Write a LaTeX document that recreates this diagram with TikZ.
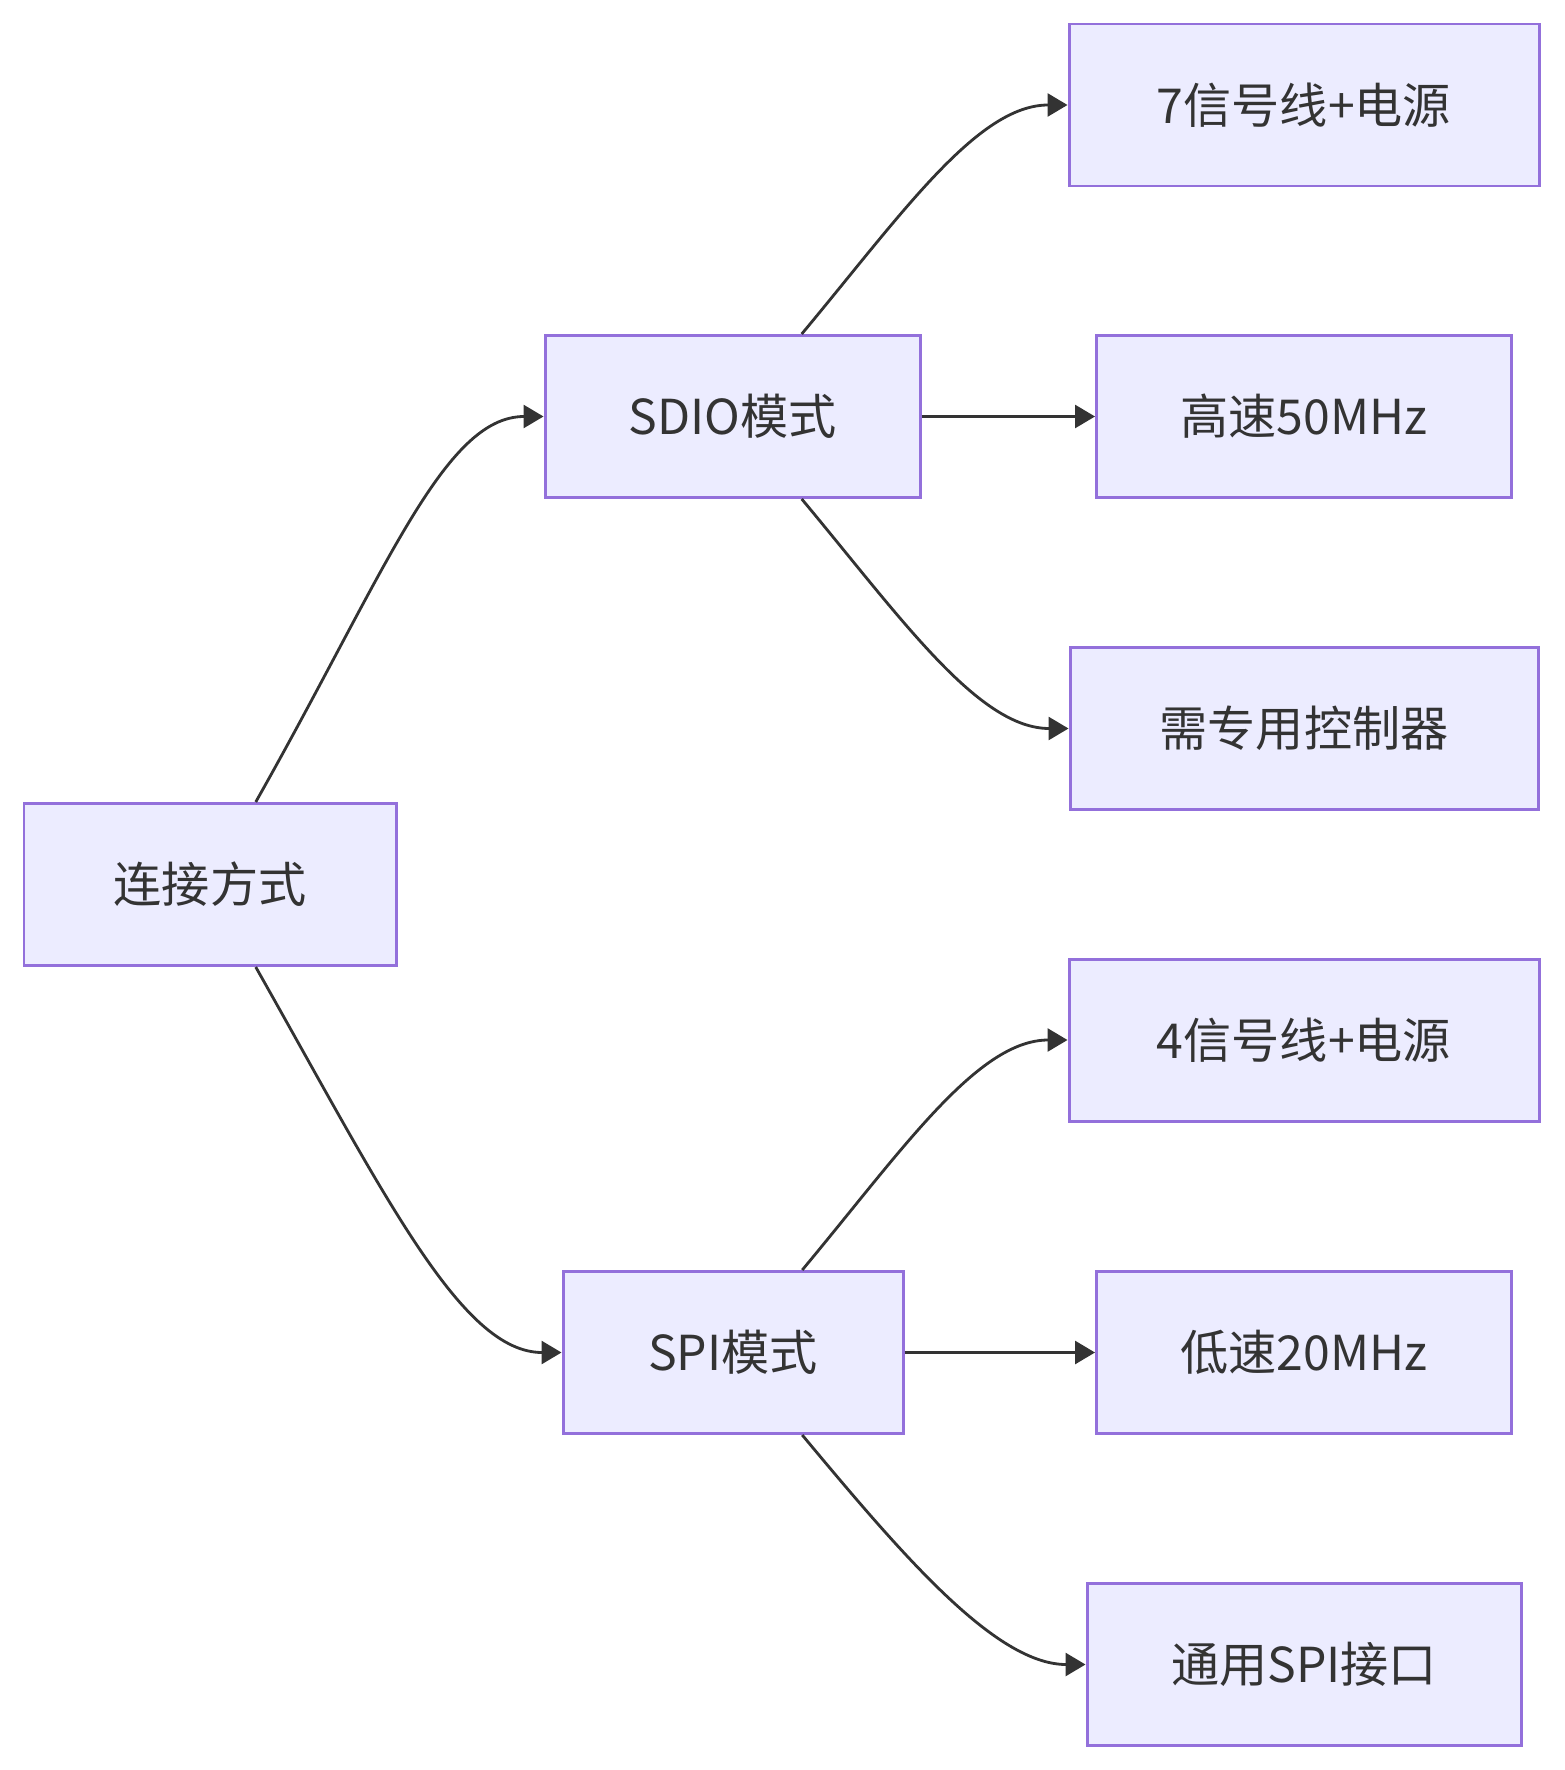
\documentclass[tikz,border=0pt]{standalone}
\usepackage{fontspec}
\setmainfont{Noto Sans CJK SC}
\usetikzlibrary{arrows.meta}
\definecolor{fond}{HTML}{ECECFF}
\definecolor{bord}{HTML}{9370DB}
\definecolor{trait}{HTML}{333333}
\begin{document}
\begin{tikzpicture}
\tikzset{noeud/.style={draw=bord, fill=fond, line width=0.85pt, minimum height=1.62cm, inner sep=0pt, text=trait, font=\fontsize{13.7}{16}\selectfont}}
\tikzset{lien/.style={draw=trait, line width=0.8pt, -{Triangle[length=0.2cm,width=0.23cm]}}}
\useasboundingbox (0,0) rectangle (15.64,-17.70);
\node[noeud, minimum width=3.72cm] (C) at (2.10,-8.845) {连接方式};
\node[noeud, minimum width=3.75cm] (SDIO) at (7.325,-4.165) {SDIO模式};
\node[noeud, minimum width=3.40cm] (SPI) at (7.33,-13.525) {SPI模式};
\node[noeud, minimum width=4.70cm] (S1) at (13.04,-1.05) {7信号线+电源};
\node[noeud, minimum width=4.15cm] (S2) at (13.04,-4.165) {高速50MHz};
\node[noeud, minimum width=4.68cm] (S3) at (13.04,-7.285) {需专用控制器};
\node[noeud, minimum width=4.70cm] (P1) at (13.04,-10.40) {4信号线+电源};
\node[noeud, minimum width=4.15cm] (P2) at (13.04,-13.525) {低速20MHz};
\node[noeud, minimum width=4.34cm] (P3) at (13.04,-16.645) {通用SPI接口};
\draw[lien] (C.61) .. controls +(1.3,2.3) and +(-1.0,0) .. (SDIO.west);
\draw[lien] (C.-61) .. controls +(1.3,-2.3) and +(-1.0,0) .. (SPI.west);
\draw[lien] (SDIO.50) .. controls +(1.0,1.2) and +(-0.9,0) .. (S1.west);
\draw[lien] (SDIO.east) -- (S2.west);
\draw[lien] (SDIO.-50) .. controls +(1.0,-1.2) and +(-0.9,0) .. (S3.west);
\draw[lien] (SPI.50) .. controls +(1.0,1.2) and +(-0.9,0) .. (P1.west);
\draw[lien] (SPI.east) -- (P2.west);
\draw[lien] (SPI.-50) .. controls +(1.0,-1.2) and +(-0.9,0) .. (P3.west);
\end{tikzpicture}
\end{document}
